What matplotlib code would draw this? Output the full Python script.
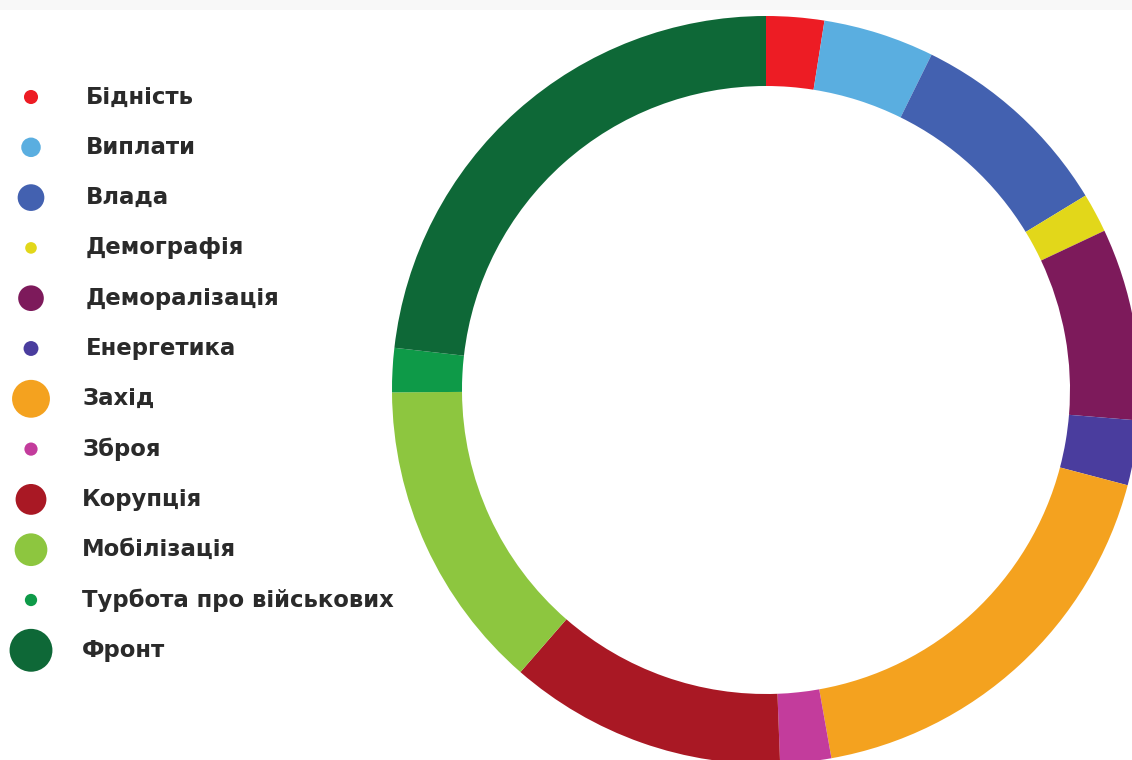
import numpy as np
import matplotlib
matplotlib.use("Agg")
import matplotlib.pyplot as plt
from matplotlib.patches import Circle, Rectangle

# Дані (частки, %), порядок за годинниковою стрілкою від верху
categories = ['Бідність', 'Виплати', 'Влада', 'Демографія', 'Деморалізація',
              'Енергетика', 'Захід', 'Зброя', 'Корупція', 'Мобілізація',
              'Турбота про військових', 'Фронт']
shares = [2.5, 4.8, 9.0, 1.7, 8.3, 2.8, 18.1, 2.2, 12.0, 13.5, 1.9, 23.2]
colors = ['#ED1C24', '#5AAEE0', '#4361B0', '#E2D71A', '#7D1A5B', '#4A3D9E',
          '#F4A21F', '#C33C9C', '#A91824', '#8DC63F', '#0E9A48', '#0E6837']

W, H = 1132, 760
fig = plt.figure(figsize=(W / 100, H / 100), dpi=100)
ax = fig.add_axes([0, 0, 1, 1])

# тонка світло-сіра смужка зверху
ax.add_patch(Rectangle((0, H - 10), W, 10, color='#f8f8f8', lw=0, zorder=0))

# кільце
ax.pie(shares, colors=colors, startangle=90, counterclock=False,
       center=(766, H - 390), radius=374, frame=True,
       wedgeprops=dict(width=70, linewidth=0, edgecolor='none'))
ax.set_xlim(0, W)
ax.set_ylim(0, H)
ax.axis('off')

# легенда: розмір кружка ~ sqrt(частки)
y0, dy = H - 97, 50.3
for i, (name, v, c) in enumerate(zip(categories, shares, colors)):
    y = y0 - i * dy
    d = 8.9 * np.sqrt(v)
    ax.add_patch(Circle((31, y), d / 2, color=c, lw=0))
    tx = 86 if i < 6 else 82
    ax.text(tx, y, name, fontsize=16.4, color='#2a2a2a', va='center', ha='left',
            family='DejaVu Sans', fontweight='bold')

fig.savefig('out.png', dpi=100)
